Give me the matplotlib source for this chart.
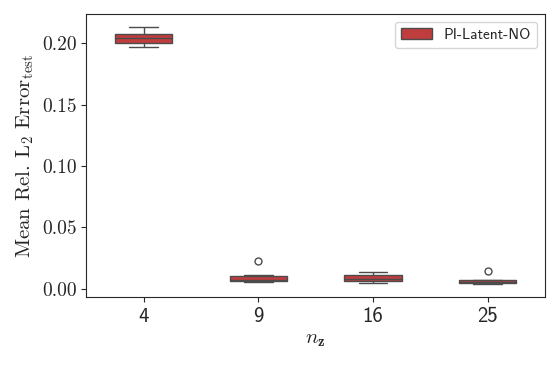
import numpy as np
import pandas as pd
import matplotlib
matplotlib.use("Agg")
import matplotlib.pyplot as plt
import seaborn as sns

sns.set_style("ticks")
plt.rcParams['font.family'] = ['cmr10']
plt.rcParams['mathtext.fontset'] = 'cm'
plt.rcParams['axes.formatter.use_mathtext'] = True
plt.rcParams['axes.unicode_minus'] = False

# latent sizes and errors per run
nz = [4, 9, 16, 25]
err_4 = [0.197, 0.199, 0.200, 0.2015, 0.2035, 0.2045, 0.2055, 0.208, 0.210, 0.2135]
err_9 = [0.0055, 0.006, 0.0062, 0.0065, 0.0068, 0.0075, 0.009, 0.0105, 0.0112, 0.023]
err_16 = [0.005, 0.0053, 0.0058, 0.007, 0.0082, 0.0086, 0.010, 0.0118, 0.0125, 0.0136]
err_25 = [0.004, 0.0042, 0.0045, 0.005, 0.0055, 0.006, 0.0065, 0.007, 0.0072, 0.0149]
yticks = [0.0, 0.05, 0.10, 0.15, 0.20]
model = "PI-Latent-NO"

rows = []
for n, errs in zip(nz, [err_4, err_9, err_16, err_25]):
    for e in errs:
        rows.append({"nz": n, "err": e, "model": model})
df = pd.DataFrame(rows)

fig = plt.figure(figsize=(5.56, 3.66), dpi=100)
ax = fig.add_axes([0.155, 0.189, 0.825, 0.773])
sns.boxplot(data=df, x="nz", y="err", hue="model", palette=["#d62728"],
            width=0.5, ax=ax, linewidth=1.0, fliersize=5)

ax.set_yticks(yticks)
ax.set_yticklabels([f"{v:.2f}" for v in yticks], fontsize=14)
ax.set_xticks(range(len(nz)))
ax.set_xticklabels([str(n) for n in nz], family="cmss10", fontsize=15)
ax.set_xlabel(r"$n_{\mathbf{z}}$", fontsize=15)
ax.set_ylabel(r"Mean Rel. L$_2$ Error$_{\mathrm{test}}$", fontsize=15)
ax.legend(loc="upper right", prop={"family": "cmss10", "size": 11})

fig.savefig("out.png", dpi=100)
